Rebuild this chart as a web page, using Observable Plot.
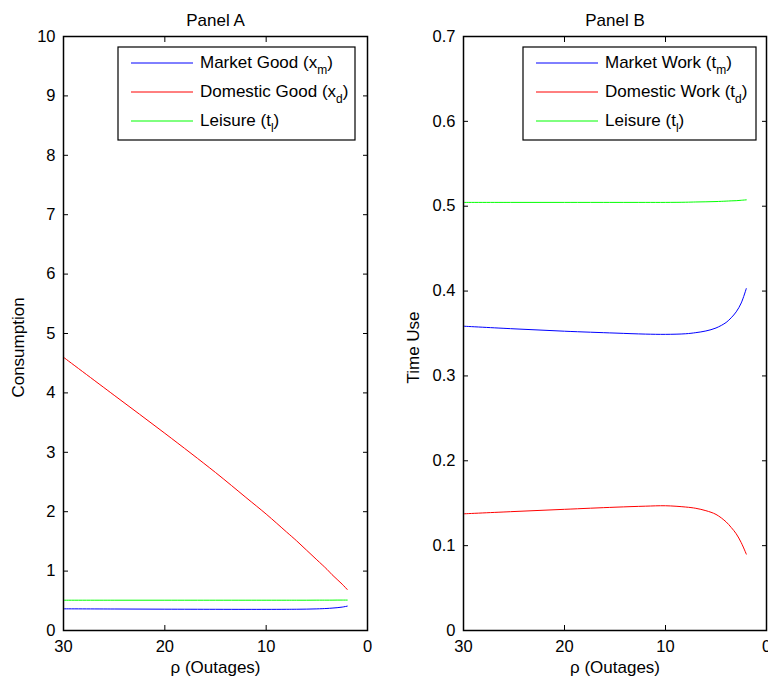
<!DOCTYPE html>
<html>
<head>
<meta charset="utf-8">
<script src="https://cdn.jsdelivr.net/npm/d3@7"></script>
<script src="https://cdn.jsdelivr.net/npm/@observablehq/plot@0.6"></script>
<style>
  html, body { margin: 0; padding: 0; background: #fff; }
  #wrap { position: relative; width: 768px; height: 681px; overflow: hidden; display: flex; font-family: "Liberation Sans", Arial, sans-serif; }
  #overlay { position: absolute; left: 0; top: 0; pointer-events: none; }
</style>
</head>
<body>
<div id="wrap"></div>
<script>
// ---------- data ----------
const rho = [30, 25, 20, 15, 12, 10, 8, 7, 6, 5, 4, 3.5, 3, 2.5, 2];

// Panel A: consumption
const xMarket   = [0.365, 0.362, 0.359, 0.357, 0.356, 0.356, 0.357, 0.358, 0.360, 0.364, 0.371, 0.377, 0.384, 0.394, 0.410];
const xDomestic = [4.60, 3.96, 3.32, 2.66, 2.24, 1.96, 1.66, 1.51, 1.35, 1.19, 1.03, 0.94, 0.86, 0.78, 0.69];
const xLeisure  = [0.510, 0.510, 0.510, 0.510, 0.510, 0.510, 0.510, 0.510, 0.510, 0.511, 0.511, 0.511, 0.512, 0.512, 0.512];

// Panel B: time use
const tMarket   = [0.3586, 0.3555, 0.3527, 0.3505, 0.3493, 0.3490, 0.3497, 0.3510, 0.3530, 0.3565, 0.3630, 0.3685, 0.3755, 0.3860, 0.4030];
const tDomestic = [0.1375, 0.1402, 0.1428, 0.1453, 0.1465, 0.1470, 0.1455, 0.1440, 0.1412, 0.1368, 0.1280, 0.1215, 0.1140, 0.1035, 0.0900];
const tLeisure  = [0.5045, 0.5045, 0.5045, 0.5045, 0.5045, 0.5045, 0.5047, 0.5050, 0.5052, 0.5055, 0.5060, 0.5063, 0.5065, 0.5070, 0.5075];

const xTicks = [30, 20, 10, 0];
const yTicksA = [0, 1, 2, 3, 4, 5, 6, 7, 8, 9, 10];
const yTicksB = [0, 0.1, 0.2, 0.3, 0.4, 0.5, 0.6, 0.7];

const seriesColors = ["#0000ff", "#ff0000", "#00ff00"];
const legendA = [["Market Good (x", "m", ")"], ["Domestic Good (x", "d", ")"], ["Leisure (t", "l", ")"]];
const legendB = [["Market Work (t", "m", ")"], ["Domestic Work (t", "d", ")"], ["Leisure (t", "l", ")"]];

// ---------- build ----------
function tidy(arrs) {
  const out = [];
  arrs.forEach((vals, s) => vals.forEach((v, i) => out.push({rho: rho[i], v, s})));
  return out;
}

const FONT = "Liberation Sans, Arial, sans-serif";
const TICK_FS = 16.5;

function panel({title, ylabel, yDomain, yTicks, yFmt, series, marginLeft, marginRight, labelDx}) {
  const data = tidy(series);
  return Plot.plot({
    width: 384,
    height: 681,
    marginTop: 36,
    marginBottom: 51,
    marginLeft,
    marginRight,
    style: {fontFamily: FONT, fontSize: "16.5px", color: "#000", background: "transparent", overflow: "visible"},
    x: {domain: [30, 0]},
    y: {domain: yDomain},
    marks: [
      Plot.axisX({anchor: "bottom", ticks: xTicks, tickSize: -5, tickPadding: 15, label: null, fontSize: TICK_FS, tickFormat: d => String(d)}),
      Plot.axisX({anchor: "top", ticks: xTicks, tickSize: -5, label: null, tickFormat: () => ""}),
      Plot.axisY({anchor: "left", ticks: yTicks, tickSize: -5, tickPadding: 13, label: null, fontSize: TICK_FS, tickFormat: yFmt}),
      Plot.axisY({anchor: "right", ticks: yTicks, tickSize: -5, label: null, tickFormat: () => ""}),
      ...[0, 1, 2].map(s => Plot.line(data.filter(d => d.s === s), {x: "rho", y: "v", stroke: seriesColors[s], strokeWidth: 1, curve: "catmull-rom"})),
      Plot.frame({stroke: "#000", strokeWidth: 1.5}),
      Plot.text([title], {frameAnchor: "top", dy: -23, fontSize: 17, fill: "#000", text: d => d}),
      Plot.text([ylabel], {frameAnchor: "left", dx: labelDx, dy: 14, rotate: -90, textAnchor: "middle", fontSize: 17, fill: "#000", text: d => d}),
      Plot.text(["ρ (Outages)"], {frameAnchor: "bottom", dy: 42, fontSize: 17, fill: "#000", text: d => d})
    ]
  });
}

const wrap = document.getElementById("wrap");
const pA = panel({title: "Panel A", ylabel: "Consumption", yDomain: [0, 10], yTicks: yTicksA, yFmt: d => String(d),
  series: [xMarket, xDomestic, xLeisure], marginLeft: 63, marginRight: 17, labelDx: -45});
const pB = panel({title: "Panel B", ylabel: "Time Use", yDomain: [0, 0.7], yTicks: yTicksB, yFmt: d => d === 0 ? "0" : d3.format(".1f")(d),
  series: [tMarket, tDomestic, tLeisure], marginLeft: 79, marginRight: 2, labelDx: -50});
wrap.appendChild(pA);
wrap.appendChild(pB);

// ---------- legends (overlay) ----------
const svg = d3.select(wrap).append("svg").attr("id", "overlay").attr("width", 768).attr("height", 681)
  .style("font-family", FONT).style("font-size", "17px");

function legend(x0, x1, items) {
  const g = svg.append("g");
  g.append("rect").attr("x", x0).attr("y", 47).attr("width", x1 - x0).attr("height", 93)
    .attr("fill", "#fff").attr("stroke", "#000").attr("stroke-width", 1.2);
  items.forEach((it, i) => {
    const y = 63 + i * 29;
    g.append("line").attr("x1", x0 + 13).attr("x2", x0 + 75).attr("y1", y).attr("y2", y)
      .attr("stroke", seriesColors[i]).attr("stroke-width", 1);
    const t = g.append("text").attr("x", x0 + 82).attr("y", y + 5).attr("fill", "#000");
    t.append("tspan").text(it[0]);
    t.append("tspan").attr("dy", 6).attr("font-size", 12).text(it[1]);
    t.append("tspan").attr("dy", -6).text(it[2]);
  });
}
legend(118, 355, legendA);
legend(523, 756, legendB);
</script>
</body>
</html>
